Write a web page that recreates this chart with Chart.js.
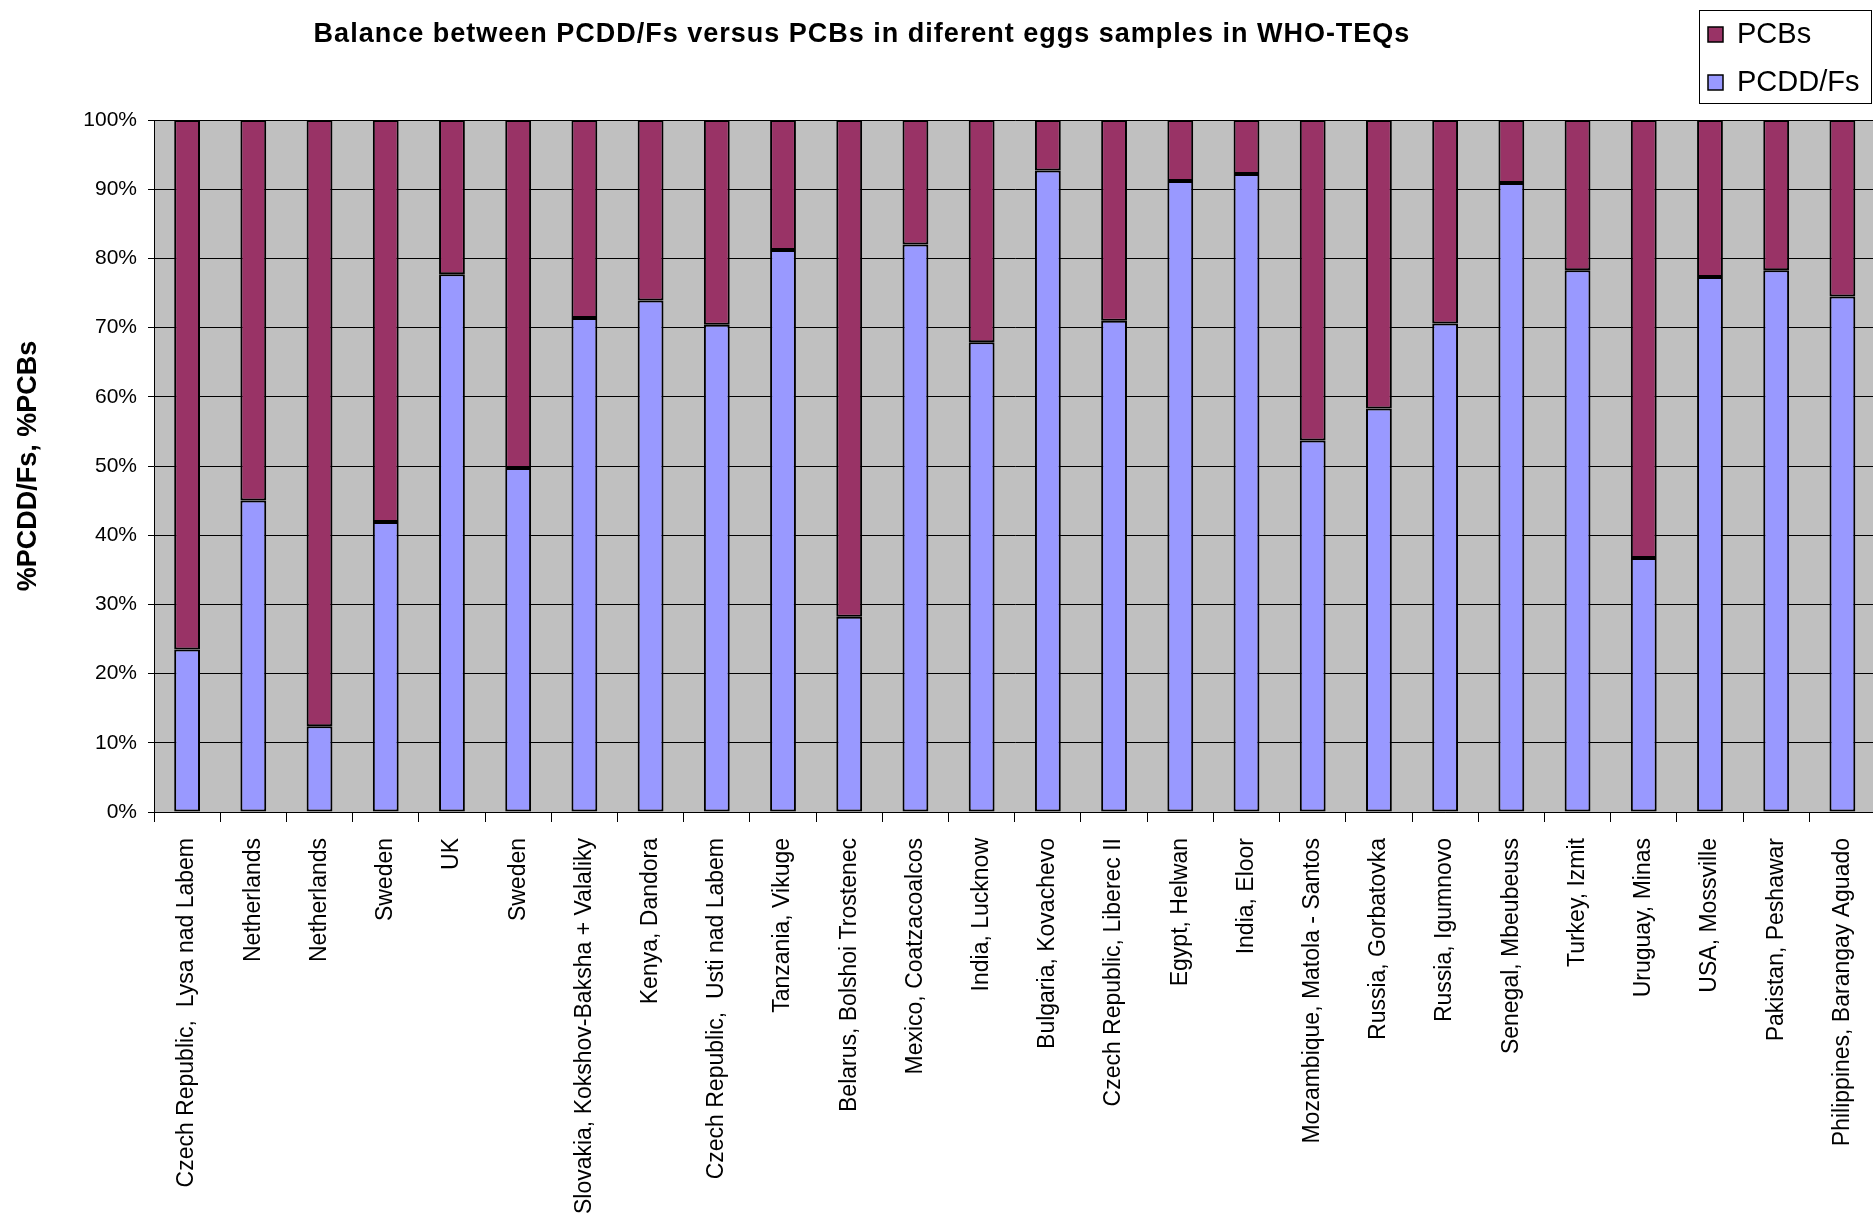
<!DOCTYPE html>
<html>
<head>
<meta charset="utf-8">
<script src="https://cdn.jsdelivr.net/npm/chart.js@4.4.1/dist/chart.umd.min.js"></script>
<style>
  html, body { margin: 0; padding: 0; background: #ffffff; overflow: hidden; }
  #wrap { position: relative; width: 1886px; height: 1231px; }
</style>
</head>
<body>
<div id="wrap"><canvas id="c" width="1886" height="1231"></canvas></div>
<script>
const chartTitle = 'Balance between PCDD/Fs versus PCBs in diferent eggs samples in WHO-TEQs';
const yAxisTitle = '%PCDD/Fs, %PCBs';
const categories = [
  'Czech Republic,  Lysa nad Labem', 'Netherlands', 'Netherlands', 'Sweden', 'UK', 'Sweden',
  'Slovakia, Kokshov-Baksha + Valaliky', 'Kenya, Dandora', 'Czech Republic,  Usti nad Labem',
  'Tanzania, Vikuge', 'Belarus, Bolshoi Trostenec', 'Mexico, Coatzacoalcos', 'India, Lucknow',
  'Bulgaria, Kovachevo', 'Czech Republic, Liberec II', 'Egypt, Helwan', 'India, Eloor',
  'Mozambique, Matola - Santos', 'Russia, Gorbatovka', 'Russia, Igumnovo', 'Senegal, Mbeubeuss',
  'Turkey, Izmit', 'Uruguay, Minas', 'USA, Mossville', 'Pakistan, Peshawar', 'Philippines, Barangay Aguado'
];
const pcddfsValues = [23.5, 45.0, 12.4, 41.9, 77.7, 49.7, 71.4, 73.9, 70.4, 81.2, 28.2, 82.0, 67.9,
                      92.7, 71.0, 91.2, 92.2, 53.7, 58.3, 70.6, 90.9, 78.3, 36.7, 77.3, 78.3, 74.5];
const pcbsValues   = [76.5, 55.0, 87.6, 58.1, 22.3, 50.3, 28.6, 26.1, 29.6, 18.8, 71.8, 18.0, 32.1,
                      7.3, 29.0, 8.8, 7.8, 46.3, 41.7, 29.4, 9.1, 21.7, 63.3, 22.7, 21.7, 25.5];
const seriesNames = ['PCDD/Fs', 'PCBs'];
const seriesColors = ['#9999FF', '#993366'];

const FONT = '"Liberation Sans", Arial, sans-serif';

const plotBg = {
  id: 'plotBg',
  beforeDraw(chart) {
    const {ctx, chartArea: a} = chart;
    ctx.save();
    ctx.fillStyle = '#C0C0C0';
    ctx.fillRect(a.left, a.top, a.right - a.left, a.bottom - a.top);
    ctx.restore();
  }
};

const customTitle = {
  id: 'customTitle',
  afterDraw(chart) {
    const ctx = chart.ctx;
    ctx.save();
    ctx.font = 'bold 27px ' + FONT;
    if ('letterSpacing' in ctx) ctx.letterSpacing = '1px';
    ctx.fillStyle = '#000';
    ctx.textAlign = 'center';
    ctx.textBaseline = 'middle';
    ctx.fillText(chartTitle, 862, 35);
    ctx.restore();
  }
};

const boxLegend = {
  id: 'boxLegend',
  afterDraw(chart) {
    const ctx = chart.ctx;
    const ds = chart.data.datasets.slice().reverse();
    ctx.save();
    ctx.fillStyle = '#fff';
    ctx.fillRect(1699, 10, 173, 94);
    ctx.strokeStyle = '#000';
    ctx.lineWidth = 1;
    ctx.strokeRect(1699.5, 10.5, 172, 93);
    ctx.font = '29px ' + FONT;
    ctx.textBaseline = 'middle';
    ctx.textAlign = 'left';
    ds.forEach((d, i) => {
      const cy = 34 + i * 48;
      ctx.fillStyle = d.backgroundColor;
      ctx.fillRect(1708, cy - 7, 15, 15);
      ctx.strokeStyle = '#000';
      ctx.lineWidth = 1.5;
      ctx.strokeRect(1708, cy - 7, 15, 15);
      ctx.fillStyle = '#000';
      ctx.fillText(d.label, 1737, cy + 1);
    });
    ctx.restore();
  }
};

new Chart(document.getElementById('c'), {
  type: 'bar',
  data: {
    labels: categories,
    datasets: [
      { label: seriesNames[0], data: pcddfsValues, backgroundColor: seriesColors[0],
        borderColor: '#000', borderWidth: 2, borderSkipped: false,
        categoryPercentage: 1.0, barPercentage: 0.39 },
      { label: seriesNames[1], data: pcbsValues, backgroundColor: seriesColors[1],
        borderColor: '#000', borderWidth: 2, borderSkipped: false,
        categoryPercentage: 1.0, barPercentage: 0.39 }
    ]
  },
  options: {
    responsive: false,
    devicePixelRatio: 1,
    animation: false,
    layout: { padding: { top: 120, left: 0, right: 0, bottom: 0 } },
    plugins: {
      legend: { display: false },
      title: { display: false },
      tooltip: { enabled: false }
    },
    scales: {
      x: {
        stacked: true,
        offset: true,
        grid: { offset: true, drawOnChartArea: false, drawTicks: true, tickLength: 10, color: '#000', lineWidth: 1 },
        border: { display: true, color: '#000', width: 1 },
        ticks: {
          autoSkip: false, minRotation: 90, maxRotation: 90, padding: 16,
          color: '#000', font: { family: FONT, size: 23 }
        },
        afterFit(s) { s.height = 419; }
      },
      y: {
        stacked: true,
        min: 0, max: 100,
        grid: { color: '#000', lineWidth: 1, drawTicks: true, tickLength: 6 },
        border: { display: true, color: '#000', width: 1 },
        ticks: {
          stepSize: 10, padding: 11, color: '#000',
          font: { family: FONT, size: 21 },
          callback: v => v + '%'
        },
        title: {
          display: true, text: yAxisTitle, color: '#000',
          font: { family: FONT, size: 27, weight: 'bold' },
          padding: { top: 12, bottom: 0 }
        },
        afterFit(s) { s.width = 154; }
      }
    }
  },
  plugins: [plotBg, customTitle, boxLegend]
});
</script>
</body>
</html>
